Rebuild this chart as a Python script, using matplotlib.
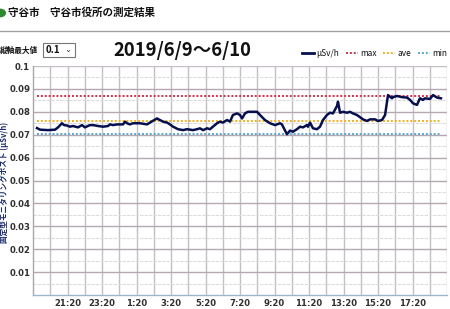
import matplotlib
matplotlib.use("Agg")
import matplotlib.pyplot as plt
from matplotlib.patches import FancyBboxPatch, Circle
from matplotlib.lines import Line2D

plt.rcParams['font.family'] = ['Noto Sans CJK JP', 'DejaVu Sans']

# hours after 6/9 19:20
hours = [0.23, 0.41, 0.87, 1.28, 1.45, 1.68, 1.80, 1.97, 2.14, 2.32, 2.61, 2.84, 3.01, 3.30, 3.48,
         3.77, 4.06, 4.35, 4.46, 4.64, 4.87, 5.22, 5.33, 5.45, 5.62, 5.80, 6.20, 6.61, 6.78, 6.96,
         7.19, 7.36, 7.54, 7.77, 7.94, 8.12, 8.41, 8.70, 8.93, 9.28, 9.51, 9.68, 9.86, 10.09, 10.26,
         10.43, 10.67, 10.84, 11.01, 11.25, 11.42, 11.59, 11.83, 12.00, 12.12, 12.29, 12.46, 12.99,
         13.16, 13.45, 13.74, 14.03, 14.32, 14.43, 14.72, 14.90, 15.07, 15.30, 15.48, 15.65, 15.88,
         15.94, 16.06, 16.23, 16.46, 16.64, 16.81, 17.04, 17.22, 17.39, 17.62, 17.68, 17.80, 17.97,
         18.20, 18.38, 18.55, 18.78, 19.13, 19.36, 19.54, 19.83, 20.00, 20.23, 20.41, 20.58, 20.81,
         20.87, 21.10, 21.39, 21.68, 21.86, 22.03, 22.26, 22.43, 22.61, 22.72, 23.01, 23.19, 23.42, 23.65]
values = [0.0729, 0.0722, 0.0720, 0.0722, 0.0732, 0.0750, 0.0742, 0.0740, 0.0735, 0.0738, 0.0732,
          0.0742, 0.0732, 0.0742, 0.0742, 0.0738, 0.0735, 0.0738, 0.0745, 0.0742, 0.0745, 0.0745,
          0.0757, 0.0750, 0.0745, 0.0750, 0.0750, 0.0745, 0.0753, 0.0761, 0.0771, 0.0764, 0.0757,
          0.0753, 0.0745, 0.0735, 0.0724, 0.0720, 0.0724, 0.0720, 0.0724, 0.0728, 0.0720, 0.0728,
          0.0724, 0.0735, 0.0750, 0.0757, 0.0753, 0.0764, 0.0757, 0.0786, 0.0793, 0.0786, 0.0771,
          0.0793, 0.0800, 0.0800, 0.0786, 0.0764, 0.0750, 0.0742, 0.0750, 0.0745, 0.0702, 0.0718,
          0.0713, 0.0724, 0.0735, 0.0732, 0.0742, 0.0735, 0.0753, 0.0728, 0.0724, 0.0735, 0.0764,
          0.0786, 0.0796, 0.0793, 0.0825, 0.0844, 0.0796, 0.0800, 0.0796, 0.0800, 0.0793, 0.0786,
          0.0767, 0.0760, 0.0767, 0.0767, 0.0760, 0.0764, 0.0786, 0.0873, 0.0859, 0.0864, 0.0869,
          0.0864, 0.0862, 0.0852, 0.0837, 0.0830, 0.0859, 0.0852, 0.0859, 0.0856, 0.0873, 0.0862,
          0.0859]
max_val = 0.0870
ave_val = 0.0761
min_val = 0.0702
tick_hours = [2, 4, 6, 8, 10, 12, 14, 16, 18, 20, 22]
tick_labels = ["21:20", "23:20", "1:20", "3:20", "5:20", "7:20", "9:20", "11:20", "13:20", "15:20", "17:20"]
y_ticks = [0.01, 0.02, 0.03, 0.04, 0.05, 0.06, 0.07, 0.08, 0.09, 0.1]
y_labels = ["0.01", "0.02", "0.03", "0.04", "0.05", "0.06", "0.07", "0.08", "0.09", "0.1"]

fig = plt.figure(figsize=(4.5, 3.09), dpi=100)
fig.patch.set_facecolor("white")
ax = fig.add_axes([33/450, 14/309, 414/450, 229/309])
ax.set_xlim(0, 24)
ax.set_ylim(0, 0.1)

# grid
for h in range(1, 25):
    ax.axvline(h, color="#c6bec6", lw=1.0, zorder=1)
for i, yv in enumerate([k * 0.005 for k in range(1, 20)]):
    if i % 2 == 1:
        ax.axhline(yv, color="#b5a8b2", lw=1.0, zorder=1)
    else:
        ax.axhline(yv, color="#dcdcdc", lw=0.8, ls=(0, (3, 1)), zorder=1)
ax.axhline(0.1, color="#c6bec6", lw=1.0, zorder=1)

x0, x1 = hours[0], hours[-1]
ax.plot([x0, x1], [max_val, max_val], color="#d0304a", lw=1.4, ls=(0, (1, 1)), zorder=2)
ax.plot([x0, x1], [ave_val, ave_val], color="#f0b020", lw=1.4, ls=(0, (1, 1)), zorder=2)
ax.plot([x0, x1], [min_val, min_val], color="#5aa8cc", lw=1.4, ls=(0, (1, 1)), zorder=2)
ax.plot(hours, values, color="#06104e", lw=1.8, zorder=3)

ax.set_xticks(tick_hours)
ax.set_xticklabels(tick_labels)
ax.set_yticks(y_ticks)
ax.set_yticklabels(y_labels)
ax.tick_params(axis="x", length=0, labelsize=6.1, colors="#303030", pad=3)
ax.tick_params(axis="y", length=0, labelsize=6.1, colors="#303030", pad=2)
for lab in ax.get_xticklabels() + ax.get_yticklabels():
    lab.set_fontweight("bold")
    lab.set_family(["DejaVu Sans"])
for s in ["top", "right"]:
    ax.spines[s].set_visible(False)
ax.spines["left"].set_color("#a8a8a8")
ax.spines["bottom"].set_color("#9cb6cf")
ax.spines["left"].set_linewidth(1.0)
ax.spines["bottom"].set_linewidth(1.0)

ax.set_ylabel("固定型モニタリングポスト (μSv/h)", fontsize=5.5, color="#1a2a6a",
              fontweight="bold", labelpad=4)
ax.yaxis.set_label_coords(-0.057, 0.49)

# header
fig.add_artist(Circle((0.0, 1 - 13/309), 0.012, transform=fig.transFigure, color="#2f8a2f"))
fig.text(8/450, 1 - 13/309, "守谷市　守谷市役所の測定結果", fontsize=7.6, fontweight="bold",
         va="center", ha="left", color="#111111")
fig.add_artist(Line2D([0, 1], [1 - 31/309, 1 - 31/309], transform=fig.transFigure,
                      color="#a0a0a0", lw=1.0))
fig.text(0, 1 - 50/309, "縦軸最大値", fontsize=5.5, fontweight="bold", va="center", ha="left",
         color="#111111")
fig.add_artist(FancyBboxPatch((43/450, 1 - 57/309), 32/450, 14/309, boxstyle="square,pad=0",
                              transform=fig.transFigure, facecolor="white", edgecolor="#777777", lw=0.8))
fig.text(46/450, 1 - 50/309, "0.1", fontsize=7, fontweight="bold", va="center", ha="left",
         color="#111111")
fig.text(68/450, 1 - 50/309, "⌄", fontsize=6, va="center", ha="center", color="#333333")
fig.text(182/450, 1 - 50/309, "2019/6/9～6/10", fontsize=13.3, fontweight="bold",
         va="center", ha="center", color="#111111")

# legend
handles = [Line2D([], [], color="#06104e", lw=2),
           Line2D([], [], color="#d0304a", lw=1.4, ls=(0, (1, 1))),
           Line2D([], [], color="#f0b020", lw=1.4, ls=(0, (1, 1))),
           Line2D([], [], color="#5aa8cc", lw=1.4, ls=(0, (1, 1)))]
leg = fig.legend(handles, ["μSv/h", "max", "ave", "min"], loc="center right",
                 bbox_to_anchor=(447/450, 1 - 53/309), ncol=4, frameon=False,
                 fontsize=6, handlelength=1.4, handletextpad=0.3, columnspacing=0.8,
                 borderaxespad=0, borderpad=0)
for t in leg.get_texts():
    t.set_color("#111111")

fig.savefig("out.png", dpi=100, facecolor="white")
